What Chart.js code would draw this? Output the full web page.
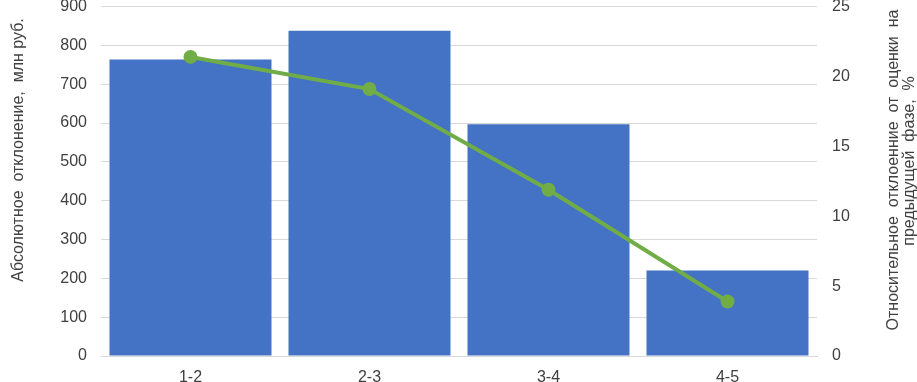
<!DOCTYPE html>
<html>
<head>
<meta charset="utf-8">
<script src="https://cdn.jsdelivr.net/npm/chart.js@4"></script>
<style>
  html, body { margin: 0; padding: 0; background: #fff; }
  #wrap { width: 917px; height: 382px; overflow: hidden; position: relative; }
  #c { position: absolute; left: 0; top: -18px; }
</style>
</head>
<body>
<div id="wrap"><canvas id="c" width="917" height="400"></canvas></div>
<script>
// phases
const phases = ['1-2', '2-3', '3-4', '4-5'];
// absolute deviation, mln rub
const absDeviation = [764, 838, 597, 220];
// relative deviation, %
const relDeviation = [21.4, 19.1, 11.9, 3.9];

const leftTitle = 'Абсолютное  отклонение,  млн руб.';
const rightTitle = ['Относительное  отклоенние  от  оценки  на', 'предыдущей  фазе,  %'];

const FONT = '"Liberation Sans", Arial, sans-serif';
const TEXT = '#404040';
const SHIFT = 18; // canvas is moved up by this much
Chart.defaults.font.family = FONT;
Chart.defaults.font.size = 16;
Chart.defaults.color = TEXT;

// axis titles drawn by hand: right one reads bottom-to-top like the left one
const axisTitles = {
  id: 'axisTitles',
  afterDraw(chart) {
    const c = chart.ctx;
    const put = (txt, x, y) => {
      c.save();
      c.translate(x, y + SHIFT);
      c.rotate(-Math.PI / 2);
      c.fillText(txt, 0, 0);
      c.restore();
    };
    c.save();
    c.font = '16px ' + FONT;
    c.fillStyle = TEXT;
    c.textAlign = 'center';
    c.textBaseline = 'middle';
    put(leftTitle, 19, 150);
    put(rightTitle[0], 894, 170);
    put(rightTitle[1], 910, 161);
    c.restore();
  }
};

const ctx = document.getElementById('c').getContext('2d');
new Chart(ctx, {
  type: 'bar',
  data: {
    labels: phases,
    datasets: [
      {
        type: 'line',
        label: 'rel',
        data: relDeviation,
        yAxisID: 'y2',
        borderColor: '#70ad47',
        backgroundColor: '#70ad47',
        borderWidth: 4,
        pointRadius: 5,
        pointHoverRadius: 5,
        tension: 0,
        order: 0
      },
      {
        type: 'bar',
        label: 'abs',
        data: absDeviation,
        yAxisID: 'y',
        backgroundColor: '#4472c4',
        categoryPercentage: 1,
        barPercentage: 0.905,
        order: 1
      }
    ]
  },
  options: {
    responsive: false,
    animation: false,
    layout: { autoPadding: false, padding: { top: 6, bottom: 0, left: 0, right: 0 } },
    plugins: { legend: { display: false }, tooltip: { enabled: false } },
    scales: {
      x: {
        grid: { display: false, drawTicks: false },
        border: { display: true, color: '#d9d9d9', width: 1 },
        ticks: { color: TEXT, padding: 12 },
        afterFit: s => { s.height = 26; }
      },
      y: {
        position: 'left',
        min: 0, max: 900,
        ticks: { stepSize: 100, color: TEXT, padding: 14 },
        grid: { color: '#d9d9d9', drawTicks: false },
        border: { display: false },
        afterFit: s => { s.width = 101; }
      },
      y2: {
        position: 'right',
        min: 0, max: 25,
        ticks: { stepSize: 5, color: TEXT, padding: 15 },
        grid: { display: false, drawTicks: false },
        border: { display: false },
        afterFit: s => { s.width = 100; }
      }
    }
  },
  plugins: [axisTitles]
});
</script>
</body>
</html>
